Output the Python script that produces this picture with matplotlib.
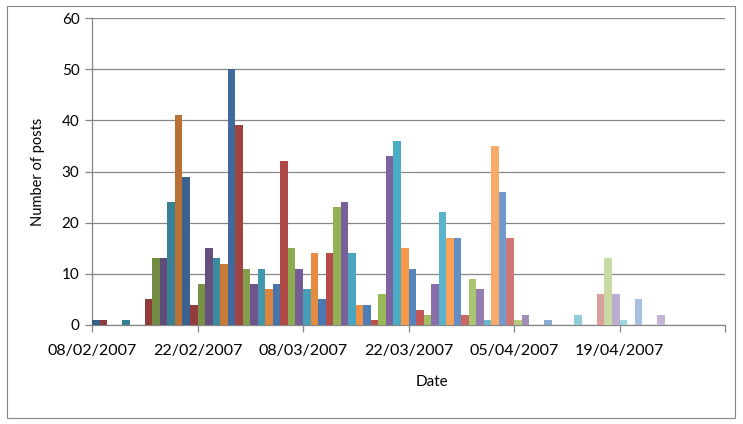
import matplotlib
matplotlib.use("Agg")
import matplotlib.pyplot as plt
import matplotlib.colors as mcolors
import numpy as np
import datetime as dt

start_date = dt.date(2007, 2, 8)
posts = [1, 1, 0, 0, 1, 0, 0, 5, 13, 13, 24, 41, 29, 4,
         8, 15, 13, 12, 50, 39, 11, 8, 11, 7, 8, 32, 15, 11,
         7, 14, 5, 14, 23, 24, 14, 4, 4, 1, 6, 33, 36, 15,
         11, 3, 2, 8, 22, 17, 17, 2, 9, 7, 1, 35, 26, 17,
         1, 2, 0, 0, 1, 0, 0, 0, 2, 0, 0, 6, 13, 6,
         1, 0, 5, 0, 0, 2, 0, 0, 0, 0, 0, 0, 0, 0]
tick_labels = ["08/02/2007", "22/02/2007", "08/03/2007", "22/03/2007",
               "05/04/2007", "19/04/2007", ""]
y_ticks = [0, 10, 20, 30, 40, 50, 60]

base = ["#4F81BD", "#C0504D", "#9BBB59", "#8064A2", "#4BACC6", "#F79646"]
shade_x = [0, 12, 24, 40, 54, 67, 83]
shade_t = [-0.27, -0.25, -0.1, 0.0, 0.2, 0.45, 0.6]

def shade(c, t):
    r = np.array(mcolors.to_rgb(c))
    if t < 0:
        r = r * (1 + t)
    else:
        r = r + (1 - r) * t
    return r

n = len(posts)
idx = np.arange(n)
colors = [shade(base[i % 6], np.interp(i, shade_x, shade_t)) for i in idx]

plt.rcParams['font.family'] = ['Lato', 'DejaVu Sans']
fig = plt.figure(figsize=(7.43, 4.24), dpi=100)
fig.patches.append(plt.Rectangle((7/743, 6/424), 728/743, 412/424, transform=fig.transFigure,
                                 fill=False, edgecolor="#868686", linewidth=0.8))
ax = fig.add_axes([92/743, (424-325)/424, (725-92)/743, (325-18)/424])
ax.bar(idx, posts, width=1.0, align='edge', color=colors, linewidth=0, zorder=3)
ax.set_xlim(0, 84)
ax.set_ylim(0, 60)
ax.set_yticks(y_ticks)
ax.set_yticklabels([str(v) for v in y_ticks], fontsize=11)
ax.set_xticks(np.arange(0, 85, 14))
ax.set_xticklabels(tick_labels, fontsize=11.5)
ax.yaxis.grid(True, color="#868686", linewidth=0.9, zorder=0)
for s in ["top", "right"]:
    ax.spines[s].set_visible(False)
for s in ["left", "bottom"]:
    ax.spines[s].set_color("#868686")
    ax.spines[s].set_linewidth(0.9)
ax.tick_params(axis='both', color="#868686", length=5, width=0.9)
ax.tick_params(axis='x', pad=9)
ax.tick_params(axis='y', pad=4)
ax.set_ylabel("Number of posts", fontsize=10.5, labelpad=12)
fig.text(432/743, 1 - 382/424, "Date", fontsize=11, ha='center', va='center')
fig.savefig("out.png", dpi=100)
